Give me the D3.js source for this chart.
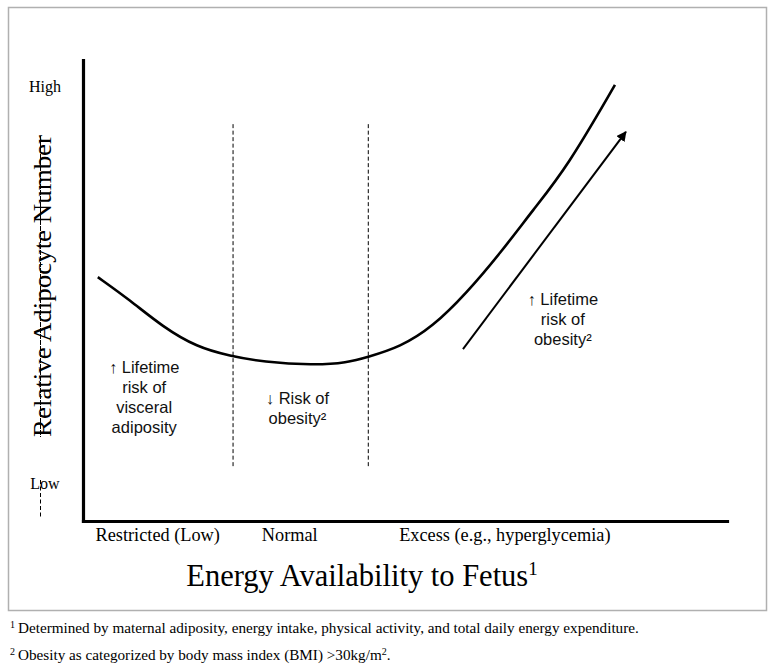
<!DOCTYPE html>
<html><head><meta charset="utf-8">
<script src="https://cdn.jsdelivr.net/npm/d3@7"></script>
<style>body{margin:0;background:#fff}svg{display:block}</style>
</head><body>
<svg id="c" width="776" height="670"></svg>
<script>
// ---- data ----
const curveX = [2.3, 7.3, 12.4, 17.7, 22.8, 28.0, 35.7, 41.0, 44.3, 49.2, 54.3, 59.6, 64.8, 69.9, 75.2, 82.6];
const curveY = [52.9, 47.9, 42.1, 37.7, 35.8, 34.5, 33.8, 34.3, 35.6, 37.7, 42.1, 49.5, 58.1, 67.5, 76.8, 94.6];
const dividers = [23.3, 44.3];
const dividerSpan = [11.9, 86.6];
const arrowX = [59.0, 84.3];
const arrowY = [37.3, 84.4];
const yTickLabels = ["Low", "High"];
const yTickValues = [8.0, 94.2];
const categories = ["Restricted (Low)", "Normal", "Excess (e.g., hyperglycemia)"];
const categoryPos = [11.6, 32.1, 65.5];
const regionNotes = [
  {x: 9.5, y: 32, lines: ["\u2191 Lifetime", "risk of", "visceral", "adiposity"]},
  {x: 33.3, y: 25.3, lines: ["\u2193 Risk of", "obesity\u00b2"]},
  {x: 74.5, y: 46.8, lines: ["\u2191 Lifetime", "risk of", "obesity\u00b2"]}
];
const xTitle = "Energy Availability to Fetus";
const yTitle = "Relative Adipocyte Number";
const footnotes = [
  ["1", "Determined by maternal adiposity, energy intake, physical activity, and total daily energy expenditure."],
  ["2", "Obesity as categorized by body mass index (BMI) >30kg/m", "2", "."]
];

// ---- drawing ----
const svg = d3.select("#c");
const x = d3.scaleLinear().domain([0, 100]).range([83, 727]);
const y = d3.scaleLinear().domain([0, 100]).range([521, 60]);
const serif = "'Liberation Serif','Times New Roman',serif";
const sans = "'Liberation Sans',Arial,sans-serif";

svg.append("defs").append("marker")
  .attr("id", "ah").attr("viewBox", "0 0 10 10").attr("refX", 9).attr("refY", 5)
  .attr("markerWidth", 5).attr("markerHeight", 5).attr("orient", "auto")
  .append("path").attr("d", "M0,0L10,5L0,10z").attr("fill", "#000");

// frame
svg.append("rect").attr("x", 8.5).attr("y", 7.5).attr("width", 758).attr("height", 603)
  .attr("fill", "none").attr("stroke", "#b0b0b0").attr("stroke-width", 1.5);

// axes
const ax = svg.append("g").attr("transform", `translate(0,${y(0)})`)
  .call(d3.axisBottom(x).tickValues([]).tickSizeOuter(0));
const ay = svg.append("g").attr("transform", `translate(${x(0)},0)`)
  .call(d3.axisLeft(y).tickValues([]).tickSizeOuter(0));
[ax, ay].forEach(g => g.select(".domain").attr("stroke", "#000").attr("stroke-width", 3.2).attr("stroke-linecap", "square"));

// dividers
svg.selectAll(".div").data(dividers).join("line")
  .attr("x1", d => x(d)).attr("x2", d => x(d))
  .attr("y1", y(dividerSpan[0])).attr("y2", y(dividerSpan[1]))
  .attr("stroke", "#000").attr("stroke-width", 1).attr("stroke-dasharray", "4,2.5");

// curve
const pts = curveX.map((v, i) => [v, curveY[i]]);
svg.append("path").datum(pts)
  .attr("d", d3.line().x(d => x(d[0])).y(d => y(d[1])).curve(d3.curveBasis))
  .attr("fill", "none").attr("stroke", "#000").attr("stroke-width", 2.6);

// arrow
svg.append("line")
  .attr("x1", x(arrowX[0])).attr("y1", y(arrowY[0]))
  .attr("x2", x(arrowX[1])).attr("y2", y(arrowY[1]))
  .attr("stroke", "#000").attr("stroke-width", 2).attr("marker-end", "url(#ah)");

// region notes
regionNotes.forEach(n => {
  const t = svg.append("text").attr("font-family", sans).attr("font-size", 16.5)
    .attr("text-anchor", "middle").attr("fill", "#111");
  n.lines.forEach((l, i) => {
    t.append("tspan").attr("x", x(n.x)).attr("y", y(n.y) + i * 20).text(l);
  });
});

// y tick labels
svg.selectAll(".yt").data(yTickLabels).join("text")
  .attr("x", 45).attr("y", (d, i) => y(yTickValues[i]) + 5)
  .attr("text-anchor", "middle").attr("font-family", serif).attr("font-size", 16)
  .text(d => d);

// y title
svg.append("text")
  .attr("transform", `translate(51,${286}) rotate(-90)`)
  .attr("text-anchor", "middle").attr("font-family", serif).attr("font-size", 26)
  .attr("textLength", 302).attr("lengthAdjust", "spacingAndGlyphs")
  .text(yTitle);
// strike line through title and below Low
svg.append("line").attr("x1", 40.5).attr("x2", 40.5).attr("y1", 136).attr("y2", 437)
  .attr("stroke", "#000").attr("stroke-width", 1).attr("stroke-dasharray", "5,1");
svg.append("line").attr("x1", 40.5).attr("x2", 40.5).attr("y1", 480).attr("y2", 518)
  .attr("stroke", "#000").attr("stroke-width", 1).attr("stroke-dasharray", "4,2.5");

// category labels
svg.selectAll(".cat").data(categories).join("text")
  .attr("x", (d, i) => x(categoryPos[i])).attr("y", 541)
  .attr("text-anchor", "middle").attr("font-family", serif).attr("font-size", 18.3)
  .text(d => d);

// x title
const xt = svg.append("text").attr("x", 362).attr("y", 586).attr("text-anchor", "middle")
  .attr("font-family", serif).attr("font-size", 30.5);
xt.append("tspan").text(xTitle);
xt.append("tspan").attr("font-size", 19).attr("dy", -11).text("1");

// footnotes
footnotes.forEach((f, i) => {
  const t = svg.append("text").attr("x", 10).attr("y", 633 + i * 27)
    .attr("font-family", serif).attr("font-size", 15.2);
  t.append("tspan").attr("font-size", 10).attr("dy", -5).text(f[0]);
  t.append("tspan").attr("dx", 3).attr("dy", 5).text(f[1]);
  if (f[2]) {
    t.append("tspan").attr("font-size", 10).attr("dy", -5).text(f[2]);
    t.append("tspan").attr("font-size", 15.2).attr("dy", 5).text(f[3]);
  }
});
</script>
</body></html>
